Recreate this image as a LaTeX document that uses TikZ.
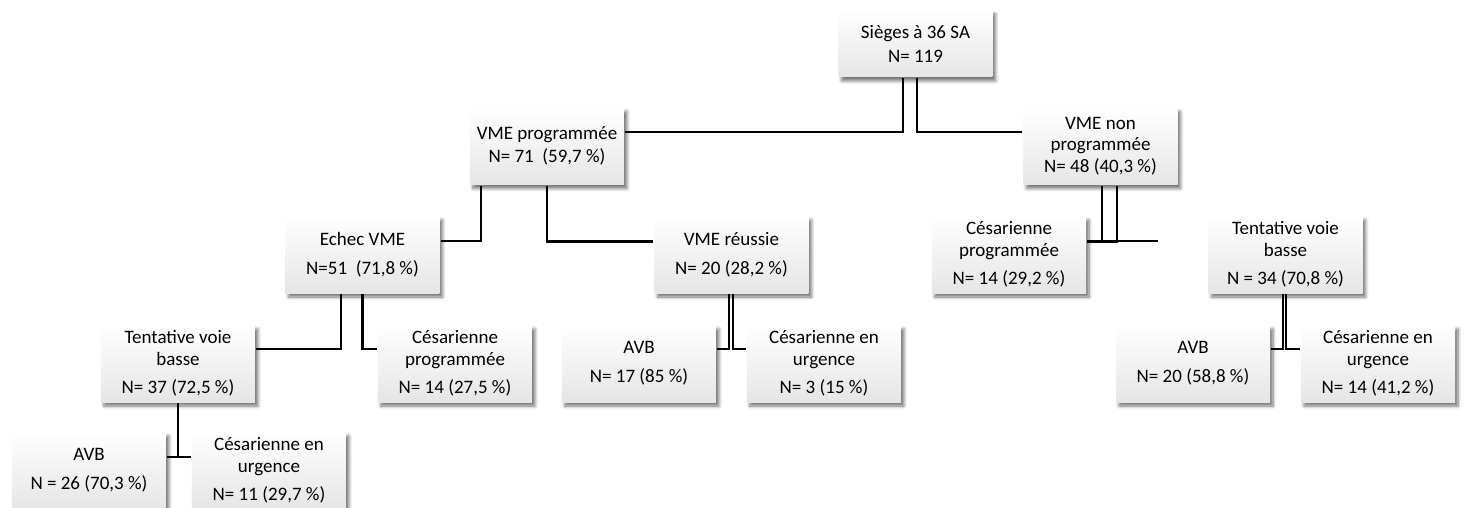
\documentclass[tikz,border=0pt]{standalone}
\usepackage{fontspec}
\setmainfont{Carlito}
\usetikzlibrary{positioning, shadows.blur}

\begin{document}
\begin{tikzpicture}[on grid, line width=1.6pt,
      every node/.style={font=\fontsize{11.4}{13}\selectfont},
      box/.style={minimum width=92.4pt, minimum height=46.2pt, inner sep=2pt, align=center,
        top color=white, bottom color=black!10,
        blur shadow={shadow xshift=1.8pt, shadow yshift=-2.4pt, shadow blur steps=6, shadow opacity=55}}]

      \useasboundingbox (-549.3pt,26.1pt) rectangle (329.1pt,-278.7pt);

      \node[box,minimum height=40.2pt] (sieges)                                 {Sièges à 36 SA\\[1.4pt]N= 119};
      \node[box] (vme_p)   [below left=61.5pt and 221.1pt of sieges]  {VME programmée\\[0.8pt]N= 71\ \ (59,7 \%)};
      \node[box] (vme_np)  [below right=61.5pt and 111pt of sieges]   {VME non\\programmée\\N= 48 (40,3 \%)};
      \node[box] (echec)   [below left=65.1pt and 110.7pt of vme_p]   {Echec VME\\[4.4pt]N=51\ \ (71,8 \%)};
      \node[box] (reussie) [below right=65.1pt and 110.7pt of vme_p]  {VME réussie\\[4.4pt]N= 20 (28,2 \%)};
      \node[box] (ces_1)   [below left=65.1pt and 54.9pt of vme_np]   {Césarienne\\programmée\\[3.8pt]N= 14 (29,2 \%)};
      \node[box] (tvb_1)   [below right=65.1pt and 111pt of vme_np]   {Tentative voie\\basse\\[3.8pt]N = 34 (70,8 \%)};
      \node[box] (tvb_2)   [below left=65.4pt and 110.7pt of echec]   {Tentative voie\\basse\\[3.8pt]N= 37 (72,5 \%)};
      \node[box] (ces_2)   [below right=65.4pt and 55.5pt of echec]   {Césarienne\\programmée\\[3.8pt]N= 14 (27,5 \%)};
      \node[box] (avb_1)   [below left=65.4pt and 55.5pt of reussie]  {AVB\\[4.4pt]N= 17 (85 \%)};
      \node[box] (cu_1)    [below right=65.4pt and 55.5pt of reussie] {Césarienne en\\urgence\\[3.8pt]N= 3 (15 \%)};
      \node[box] (avb_2)   [below left=65.4pt and 55.5pt of tvb_1]    {AVB\\[4.4pt]N= 20 (58,8 \%)};
      \node[box] (cu_2)    [below right=65.4pt and 55.5pt of tvb_1]   {Césarienne en\\urgence\\[3.8pt]N= 14 (41,2 \%)};
      \node[box] (avb_3)   [below left=64.2pt and 53.4pt of tvb_2]    {AVB\\[4.4pt]N = 26 (70,3 \%)};
      \node[box] (cu_3)    [below right=64.2pt and 54.6pt of tvb_2]   {Césarienne en\\urgence\\[3.8pt]N= 11 (29,7 \%)};
      \coordinate[below right=57pt and 34.5pt of vme_np] (stub);

      \draw ([xshift=-7.5pt]sieges.south) |- ([yshift=8.4pt]vme_p.east);
      \draw ([xshift=0.9pt]sieges.south)  |- ([yshift=8.4pt]vme_np.west);
      \draw ([xshift=-39.6pt]vme_p.south) |- ([yshift=8.1pt]echec.east);
      \draw (vme_p.south)                 |- ([yshift=7.8pt]reussie.west);
      \draw ([xshift=0.9pt]vme_np.south)  |- (stub);
      \draw ([xshift=9.9pt]vme_np.south)  |- ([yshift=7.8pt]ces_1.east);
      \draw ([xshift=-12.9pt]echec.south) |- ([yshift=8.7pt]tvb_2.east);
      \draw (echec.south)                 |- ([yshift=8.7pt]ces_2.west);
      \draw ([xshift=-1.5pt]reussie.south) |- ([yshift=8.7pt]avb_1.east);
      \draw ([xshift=0.9pt]reussie.south)  |- ([yshift=8.7pt]cu_1.west);
      \draw ([xshift=-1.5pt]tvb_1.south)  |- ([yshift=8.7pt]avb_2.east);
      \draw ([xshift=0.3pt]tvb_1.south)   |- ([yshift=8.7pt]cu_2.west);
      \draw (tvb_2.south)                 |- ([yshift=8.1pt]avb_3.east);
      \draw (tvb_2.south)                 |- ([yshift=8.1pt]cu_3.west);
\end{tikzpicture}
\end{document}
